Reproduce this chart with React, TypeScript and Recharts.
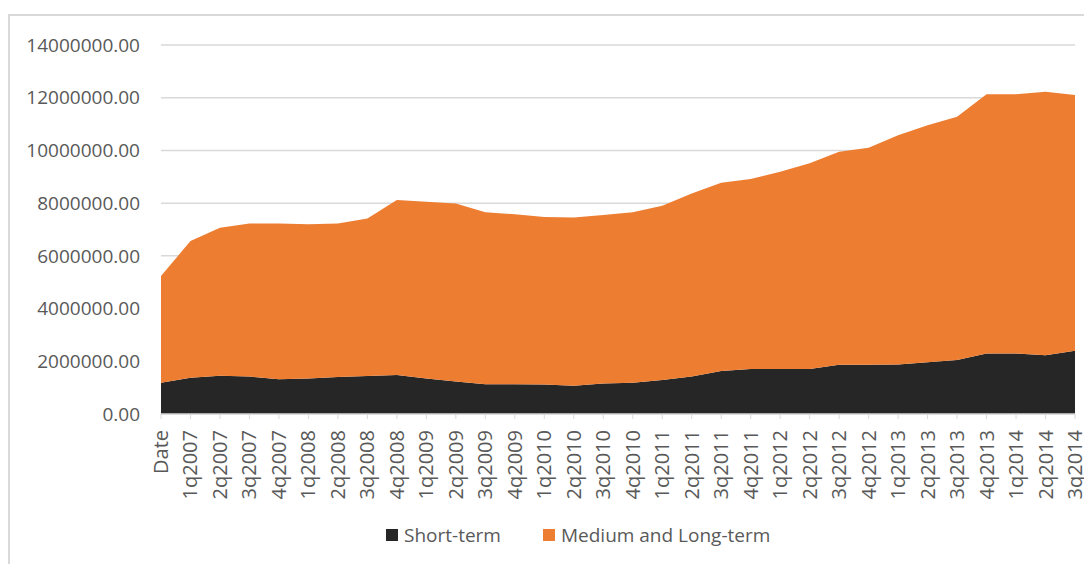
import React from 'react';
import { AreaChart, Area, XAxis, YAxis, CartesianGrid, Legend } from 'recharts';

const categories = ['Date', '1q2007', '2q2007', '3q2007', '4q2007', '1q2008', '2q2008', '3q2008', '4q2008', '1q2009', '2q2009', '3q2009', '4q2009', '1q2010', '2q2010', '3q2010', '4q2010', '1q2011', '2q2011', '3q2011', '4q2011', '1q2012', '2q2012', '3q2012', '4q2012', '1q2013', '2q2013', '3q2013', '4q2013', '1q2014', '2q2014', '3q2014'];

const shortTerm = [1190000, 1380000, 1450000, 1420000, 1320000, 1350000, 1400000, 1440000, 1480000, 1350000, 1230000, 1130000, 1130000, 1120000, 1070000, 1160000, 1190000, 1290000, 1420000, 1630000, 1710000, 1710000, 1710000, 1870000, 1870000, 1880000, 1960000, 2050000, 2300000, 2300000, 2230000, 2400000];

const mediumLong = [4050000, 5180000, 5620000, 5810000, 5910000, 5850000, 5830000, 5980000, 6640000, 6700000, 6760000, 6520000, 6450000, 6350000, 6390000, 6390000, 6460000, 6610000, 6950000, 7140000, 7210000, 7480000, 7800000, 8080000, 8230000, 8700000, 9000000, 9230000, 9830000, 9830000, 10000000, 9700000];

const yTicks = [0, 2000000, 4000000, 6000000, 8000000, 10000000, 12000000, 14000000];

const seriesNames = ['Short-term', 'Medium and Long-term'];
const seriesColors = ['#262626', '#ED7D31'];

const data = categories.map((c, i) => ({ cat: c, short: shortTerm[i], medium: mediumLong[i] }));

const FONT = '"Open Sans", sans-serif';
const TEXT = '#595959';

const XTick = (props: any) => {
  const { x, y, payload } = props;
  return (
    <text
      x={x}
      y={y + 9}
      transform={`rotate(-90, ${x}, ${y + 9})`}
      textAnchor="end"
      dy="0.35em"
      fill={TEXT}
      fontSize={20}
      fontFamily={FONT}
    >
      {payload.value}
    </text>
  );
};

const LegendContent = () => (
  <div style={{ display: 'flex', alignItems: 'center', fontFamily: FONT, fontSize: 19, color: TEXT }}>
    {seriesNames.map((n, i) => (
      <div key={n} style={{ display: 'flex', alignItems: 'center', marginRight: i === 0 ? 42 : 0 }}>
        <span style={{ display: 'inline-block', width: 12, height: 12, background: seriesColors[i], marginRight: 6 }} />
        <span>{n}</span>
      </div>
    ))}
  </div>
);

export default function App() {
  return (
    <div style={{ position: 'relative', width: 1084, height: 556 }}>
      <div
        style={{
          position: 'absolute',
          left: 0,
          top: 6,
          width: 1082,
          height: 548,
          borderTop: '2px solid #d9d9d9',
          borderLeft: '2px solid #d9d9d9',
        }}
      />
      <AreaChart width={1084} height={556} data={data} margin={{ top: 37, right: 17, bottom: 0, left: 0 }}>
        <CartesianGrid horizontal vertical={false} stroke="#d9d9d9" strokeWidth={1.5} />
        <XAxis
          dataKey="cat"
          interval={0}
          tick={<XTick />}
          tickSize={5}
          tickLine={{ stroke: '#d9d9d9' }}
          axisLine={{ stroke: '#d9d9d9', strokeWidth: 1.5 }}
          height={124}
        />
        <YAxis
          width={153}
          domain={[0, 14000000]}
          ticks={yTicks}
          tickFormatter={(v: number) => v.toFixed(2)}
          axisLine={false}
          tickLine={false}
          tickMargin={15}
          tick={{ fill: TEXT, fontSize: 19, fontFamily: FONT }}
        />
        <Legend content={<LegendContent />} wrapperStyle={{ position: 'absolute', left: 378, top: 514, width: 'auto' }} />
        <Area type="linear" dataKey="short" name={seriesNames[0]} stackId="a" stroke="none" fill={seriesColors[0]} fillOpacity={1} isAnimationActive={false} />
        <Area type="linear" dataKey="medium" name={seriesNames[1]} stackId="a" stroke="none" fill={seriesColors[1]} fillOpacity={1} isAnimationActive={false} />
      </AreaChart>
    </div>
  );
}
